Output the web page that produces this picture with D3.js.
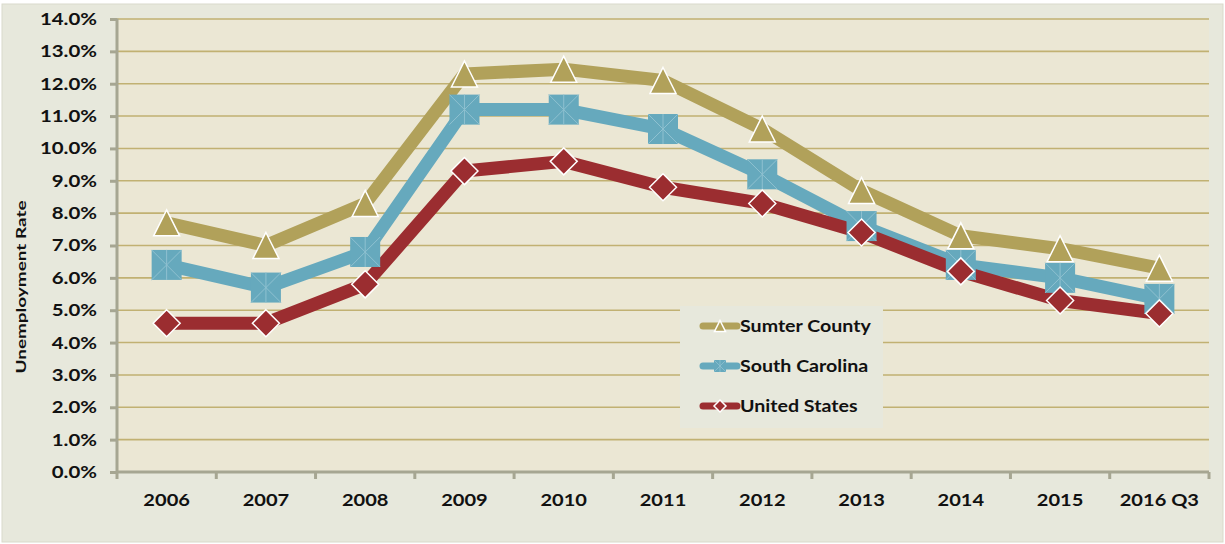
<!DOCTYPE html>
<html><head><meta charset="utf-8">
<script src="https://cdn.jsdelivr.net/npm/d3@7"></script>
<style>
html,body{margin:0;padding:0;background:#fff;}
svg{display:block;}
text{font-family:"Lato","Open Sans",sans-serif;font-weight:700;fill:#111;}
</style></head>
<body><svg id="c" width="1225" height="544"></svg>
<script>
const categories = ["2006","2007","2008","2009","2010","2011","2012","2013","2014","2015","2016 Q3"];
const sumterCounty = [7.7,7.0,8.3,12.3,12.45,12.1,10.6,8.7,7.3,6.9,6.3];
const southCarolina = [6.4,5.7,6.8,11.2,11.2,10.6,9.2,7.6,6.4,6.0,5.35];
const unitedStates = [4.6,4.6,5.8,9.3,9.6,8.8,8.3,7.4,6.2,5.3,4.9];
const yTicks = [0,1,2,3,4,5,6,7,8,9,10,11,12,13,14];
const seriesNames = ["Sumter County","South Carolina","United States"];

const svg = d3.select("#c");
const W = 1225, H = 544;
const plot = {left:117, right:1209, top:19, bottom:472};

svg.append("rect").attr("x",2).attr("y",4).attr("width",W-4).attr("height",H-6)
  .attr("fill","#e7e8dc").attr("stroke","#d9dacb").attr("stroke-width",1);

const x = d3.scaleBand().domain(categories).range([plot.left, plot.right]);
const y = d3.scaleLinear().domain([0,14]).range([plot.bottom, plot.top]);

svg.append("rect").attr("x",plot.left).attr("y",plot.top)
  .attr("width",plot.right-plot.left).attr("height",plot.bottom-plot.top).attr("fill","#ebe7d4");

// gridlines
svg.append("g").selectAll("line").data(yTicks.filter(d=>d>0)).join("line")
  .attr("x1",plot.left).attr("x2",plot.right)
  .attr("y1",d=>y(d)).attr("y2",d=>y(d))
  .attr("stroke","#c1b172").attr("stroke-width",1.6);

// stretch helper: widen glyphs horizontally (reference text is horizontally stretched)
function stretch(sel, factor){
  sel.each(function(){
    const n = this.getComputedTextLength();
    d3.select(this).attr("textLength", n*factor).attr("lengthAdjust","spacingAndGlyphs");
  });
}

// axes
const axisColor = "#a6a692";
const yAxis = svg.append("g").attr("transform",`translate(${plot.left},0)`)
  .call(d3.axisLeft(y).tickValues(yTicks).tickFormat(d=>d.toFixed(1)+"%").tickSize(7).tickPadding(13));
yAxis.select(".domain").attr("stroke",axisColor).attr("stroke-width",3).attr("d",`M0,${plot.top-0.5}V${plot.bottom}`);
yAxis.selectAll(".tick line").attr("stroke",axisColor).attr("stroke-width",3);
yAxis.selectAll(".tick text").style("font-size","17px").style("font-family","Lato, sans-serif").style("font-weight","700").attr("fill","#111");
stretch(yAxis.selectAll(".tick text"), 1.2);

const xAxis = svg.append("g").attr("transform",`translate(0,${plot.bottom})`)
  .call(d3.axisBottom(x).tickSize(0).tickPadding(22));
xAxis.select(".domain").attr("stroke",axisColor).attr("stroke-width",3).attr("d",`M${plot.left},0H${plot.right}`);
xAxis.selectAll(".tick text").style("font-size","17px").style("font-family","Lato, sans-serif").style("font-weight","700").attr("fill","#111");
stretch(xAxis.selectAll(".tick text"), 1.18);
// category boundary ticks
const bounds = categories.map(c=>x(c)).concat([plot.right]);
svg.append("g").selectAll("line").data(bounds).join("line")
  .attr("x1",d=>d).attr("x2",d=>d).attr("y1",plot.bottom).attr("y2",plot.bottom+7)
  .attr("stroke",axisColor).attr("stroke-width",3);

const title = svg.append("text").attr("transform",`translate(26,${287}) rotate(-90)`)
  .attr("text-anchor","middle").style("font-size","14px").text("Unemployment Rate");
title.attr("textLength",173).attr("lengthAdjust","spacingAndGlyphs");

const colors = ["#b1a15a","#66a9bd","#9b2d30"];
const data = [sumterCounty, southCarolina, unitedStates];
const cx = c => x(c) + x.bandwidth()/2;

const line = d3.line().x((d,i)=>cx(categories[i])).y(d=>y(d));
data.forEach((vals,si)=>{
  svg.append("path").datum(vals).attr("d",line).attr("fill","none")
    .attr("stroke",colors[si]).attr("stroke-width",13).attr("stroke-linejoin","round");
});

function triangle(g, s){
  const h = s;
  g.append("path").attr("d",`M0,${-h/2}L${s/2},${h/2}L${-s/2},${h/2}Z`)
    .attr("fill",colors[0]).attr("stroke","#fff").attr("stroke-width",1.5);
}
function square(g, s){
  g.append("rect").attr("x",-s/2).attr("y",-s/2).attr("width",s).attr("height",s).attr("fill",colors[1]);
  const h=s/2;
  g.append("path").attr("d",`M${-h},${-h}L${h},${h}M${-h},${h}L${h},${-h}M0,${-h}V${h}`)
    .attr("stroke","#8fc1d0").attr("stroke-width",1).attr("fill","none");
}
function diamond(g, s){
  const h=s/2;
  g.append("path").attr("d",`M0,${-h}L${h},0L0,${h}L${-h},0Z`)
    .attr("fill",colors[2]).attr("stroke","#fff").attr("stroke-width",1.5);
}
const markers = [g=>triangle(g,26), g=>square(g,30), g=>diamond(g,27)];
data.forEach((vals,si)=>{
  vals.forEach((v,i)=>{
    const g = svg.append("g").attr("transform",`translate(${cx(categories[i])},${y(v)})`);
    markers[si](g);
  });
});

// legend
const lg = svg.append("g");
lg.append("rect").attr("x",680).attr("y",306).attr("width",203).attr("height",122).attr("fill","#e7e8dc");
const legendMarkers = [g=>triangle(g,11), g=>{
  g.append("rect").attr("x",-6).attr("y",-6).attr("width",12).attr("height",12).attr("fill",colors[1]);
  g.append("path").attr("d","M-6,-6L6,6M-6,6L6,-6M0,-6V6").attr("stroke","#8fc1d0").attr("stroke-width",0.8);
}, g=>diamond(g,12)];
seriesNames.forEach((name,i)=>{
  const yy = 326 + i*40;
  lg.append("line").attr("x1",703).attr("x2",737).attr("y1",yy).attr("y2",yy)
    .attr("stroke",colors[i]).attr("stroke-width",7).attr("stroke-linecap","round");
  const g = lg.append("g").attr("transform",`translate(720,${yy})`);
  legendMarkers[i](g);
  const t = lg.append("text").attr("x",740).attr("y",yy+6).style("font-size","17.5px").text(name);
  stretch(t, 1.12);
});
</script>
</body></html>
